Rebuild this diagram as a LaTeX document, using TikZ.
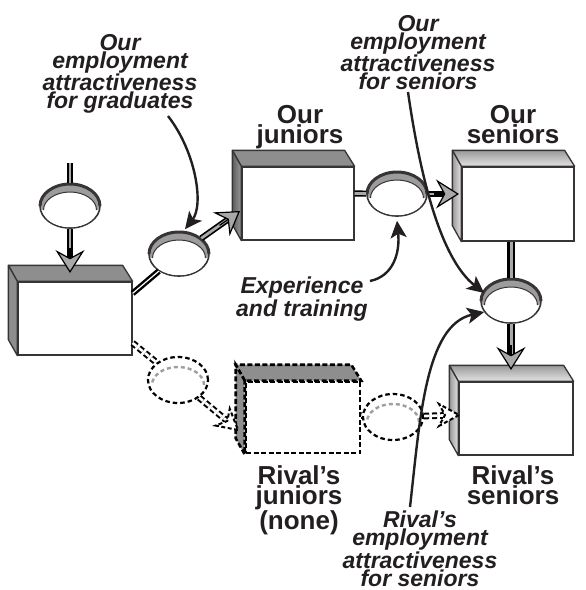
\documentclass[tikz,border=0pt]{standalone}
\usepackage{fontspec}
\setmainfont{Liberation Sans}
\usetikzlibrary{arrows.meta,calc,shapes.geometric}

\definecolor{ink}{HTML}{231F20}
\definecolor{edge}{HTML}{383435}
\definecolor{facegray}{HTML}{8E8E8E}
\definecolor{headgray}{HTML}{A9A9A9}
\definecolor{ringgray}{HTML}{9C9C9C}
\definecolor{lightface}{HTML}{E4E4E4}
\definecolor{midface}{HTML}{9A9A9A}
\definecolor{darkface}{HTML}{5E5E5E}

\tikzset{
  front/.style={rectangle, draw=edge, line width=1.3pt, fill=white, inner sep=0pt},
  flatface/.style={draw=edge, line width=1.3pt, fill=facegray, line join=round},
  shadetop/.style={draw=edge, line width=1.3pt, top color=midface, bottom color=lightface, line join=round},
  shadeside/.style={draw=edge, line width=1.3pt, left color=midface, right color=lightface, line join=round},
  darkside/.style={draw=edge, line width=1.3pt, left color=darkface, right color=midface, line join=round},
  dfront/.style={rectangle, draw=black, line width=2.6pt, dash pattern=on 5pt off 2.5pt, fill=white, inner sep=0pt},
  dface/.style={draw=black, line width=2.6pt, dash pattern=on 5pt off 2.5pt, fill=facegray},
  valve/.style={ellipse, minimum width=60pt, minimum height=44pt, inner sep=0pt,
    draw=edge, line width=1.6pt, fill=white},
  dvalve/.style={ellipse, minimum width=60pt, minimum height=46pt, inner sep=0pt,
    draw=black, line width=2.2pt, dash pattern=on 4.5pt off 3pt, fill=white},
  pipe/.style={draw=black, line width=1.7pt, double=headgray, double distance=2.8pt},
  thinpipe/.style={draw=black, line width=2.4pt, double=white, double distance=1.2pt},
  widepipe/.style={draw=black, line width=2.8pt, double=headgray, double distance=3pt},
  dpipe/.style={draw=black, line width=2pt, double=white, double distance=2.6pt, dash pattern=on 5pt off 3pt},
  flowhead/.style={draw=black, line width=1.2pt, -{Stealth[length=23pt, width=29pt, inset=8pt, fill=headgray]}},
  dhead/.style={draw=black, line width=2pt, dash pattern=on 4pt off 2.5pt, fill=white, line join=miter},
  cue/.style={draw=ink, line width=2.4pt, -{Stealth[length=17pt, width=16pt, inset=4pt]}},
  blabel/.style={font=\fontsize{26}{20}\selectfont\bfseries, align=center, inner sep=0pt, text=ink, anchor=north},
  ilabel/.style={font=\fontsize{23}{18}\selectfont\bfseries\itshape, align=center, inner sep=0pt, text=ink, anchor=north}
}

% side and top faces of a box whose front face is node #1
\newcommand{\boxfaces}[3]{%
  \filldraw[#2] (#1.north west) -- ++(-9,-16) -- ($(#1.north east)+(-10,-16)$) -- (#1.north east) -- cycle;
  \filldraw[#3] (#1.north west) -- ++(-9,-16) -- ($(#1.south west)+(-9,-16)$) -- (#1.south west) -- cycle;}

% shaded upper rim of a solid valve node #1 (y grows downwards here)
\newcommand{\valverim}[1]{%
  \begin{scope}[shift={(#1.center)}]
    \begin{scope}
      \clip (0,0) ellipse [x radius=29.2, y radius=21.2];
      \fill[ringgray] (-31,-23) rectangle (31,4);
      \fill[white] (0,4) ellipse [x radius=26.5, y radius=18];
      \draw[edge, line width=1pt] (26.5,4) arc [start angle=0, end angle=-180, x radius=26.5, y radius=18];
    \end{scope}
    \draw[edge, line width=3pt] (30,0) arc [start angle=0, end angle=-180, x radius=30, y radius=22];
  \end{scope}}

% dashed upper rim of a dashed valve node #1
\newcommand{\dvalverim}[1]{%
  \begin{scope}[shift={(#1.center)}]
    \draw[gray!75, line width=2.4pt, dash pattern=on 4pt off 3pt]
      (26,5) arc [start angle=0, end angle=-180, x radius=26, y radius=18];
  \end{scope}}

\begin{document}
\begin{tikzpicture}[x=1pt, y=-1pt]
\path[use as bounding box] (0,0) rectangle (586,590);

% ---- stocks ----
\node[front, minimum width=114pt, minimum height=73pt] (L)  at (75,318.5) {};
\node[front, minimum width=112pt, minimum height=73pt] (J)  at (298,203.5) {};
\node[front, minimum width=112pt, minimum height=74pt] (S)  at (518,204) {};
\node[front, minimum width=114pt, minimum height=73pt] (RS) at (516,418.5) {};
\node[dfront, minimum width=114pt, minimum height=71pt] (RJ) at (303,417.5) {};

\boxfaces{L}{flatface}{flatface}
\boxfaces{J}{flatface}{darkside}
\boxfaces{S}{shadetop}{shadeside}
\boxfaces{RS}{shadetop}{shadeside}
\boxfaces{RJ}{dface}{dface}

% ---- valves ----
\node[valve]  (v1) at (70,206) {};
\node[valve]  (v2) at (179,254) {};
\node[valve]  (v3) at (397,194) {};
\node[valve]  (v4) at (511,301) {};
\node[dvalve] (v5) at (178,380) {};
\node[dvalve] (v6) at (393,417) {};
\valverim{v1}
\valverim{v2}
\valverim{v3}
\valverim{v4}
\dvalverim{v5}
\dvalverim{v6}

% ---- pipe ends ----
\coordinate (a0)   at (70,163);
\coordinate (tipA) at (70,273);
\coordinate (b0)   at ($(L.north east)+(0,12)$);
\coordinate (tipB) at (240,211);
\coordinate (c0)   at ($(J.east)+(0,-10)$);
\coordinate (tipC) at (459,194);
\coordinate (d0)   at ($(S.south)+(-7,0)$);
\coordinate (tipD) at (511,370);
\coordinate (e0)   at ($(L.east)+(0,24.5)$);
\coordinate (tipE) at (238,430);
\coordinate (f0)   at ($(RJ.east)+(0,-2)$);
\coordinate (tipF) at (459,415);

% inflow of graduates
\draw[pipe] (a0) -- (v1);
\draw[pipe] (v1) -- ($(tipA)!14pt!(v1)$);
\draw[flowhead] ($(tipA)!25pt!(v1)$) -- (tipA);

% graduates to our juniors
\draw[thinpipe] (b0) -- (v2);
\draw[pipe] (v2) -- ($(tipB)!14pt!(v2)$);
\draw[flowhead] ($(tipB)!25pt!(v2)$) -- (tipB);

% our juniors to our seniors
\draw[pipe] (c0) -- (v3);
\draw[pipe] (v3) -- ($(tipC)!14pt!(v3)$);
\draw[flowhead] ($(tipC)!25pt!(v3)$) -- (tipC);

% our seniors to rival's seniors
\draw[widepipe] (d0) -- (v4);
\draw[widepipe] (v4) -- ($(tipD)!14pt!(v4)$);
\draw[flowhead] ($(tipD)!25pt!(v4)$) -- (tipD);

% graduates to rival's juniors
\draw[dpipe] (e0) -- (v5);
\draw[dpipe] (v5) -- ($(tipE)!15pt!(v5)$);
\draw[dhead, shift={(tipE)}, rotate=-40] (0,0) -- (-20,11) -- (-14,0) -- (-20,-11) -- cycle;

% rival's juniors to rival's seniors
\draw[dpipe] (f0) -- (v6);
\draw[dpipe] (v6) -- ($(tipF)!15pt!(v6)$);
\draw[dhead, shift={(tipF)}] (0,0) -- (-20,11) -- (-14,0) -- (-20,-11) -- cycle;

% ---- stock labels ----
\node[blabel] (tJ)  at (300,105) {Our\\juniors};
\node[blabel] (tS)  at (513,105) {Our\\seniors};
\node[blabel] (tRS) at (513,465) {Rival’s\\seniors};
\node[blabel] (tRJ) at (299,465) {Rival’s\\juniors\\(none)};

% ---- influence labels ----
\node[ilabel] (tG)  at (120,34)  {Our\\employment\\attractiveness\\for graduates};
\node[ilabel] (tOS) at (418,15)  {Our\\employment\\attractiveness\\for seniors};
\node[ilabel] (tRA) at (420,511) {Rival’s\\employment\\attractiveness\\for seniors};
\node[ilabel] (tX)  at (302,277) {Experience\\and training};

% ---- influence arrows ----
\coordinate (g0) at (168,116);
\coordinate (x0) at (370,281);
\coordinate (o0) at (408,92);
\coordinate (r0) at (410,507);
\draw[cue] (g0) .. controls (196,152) and (204,205) .. ($(v2.north)+(6,-2)$);
\draw[cue] (x0) .. controls (394,276) and (400,252) .. ($(v3.south)+(0,4)$);
\draw[cue] (o0) .. controls (420,175) and (440,258) .. ($(v4.west)+(4,-8)$);
\draw[cue] (r0) .. controls (420,420) and (425,325) .. ($(v4.west)+(4,11)$);

\end{tikzpicture}
\end{document}
